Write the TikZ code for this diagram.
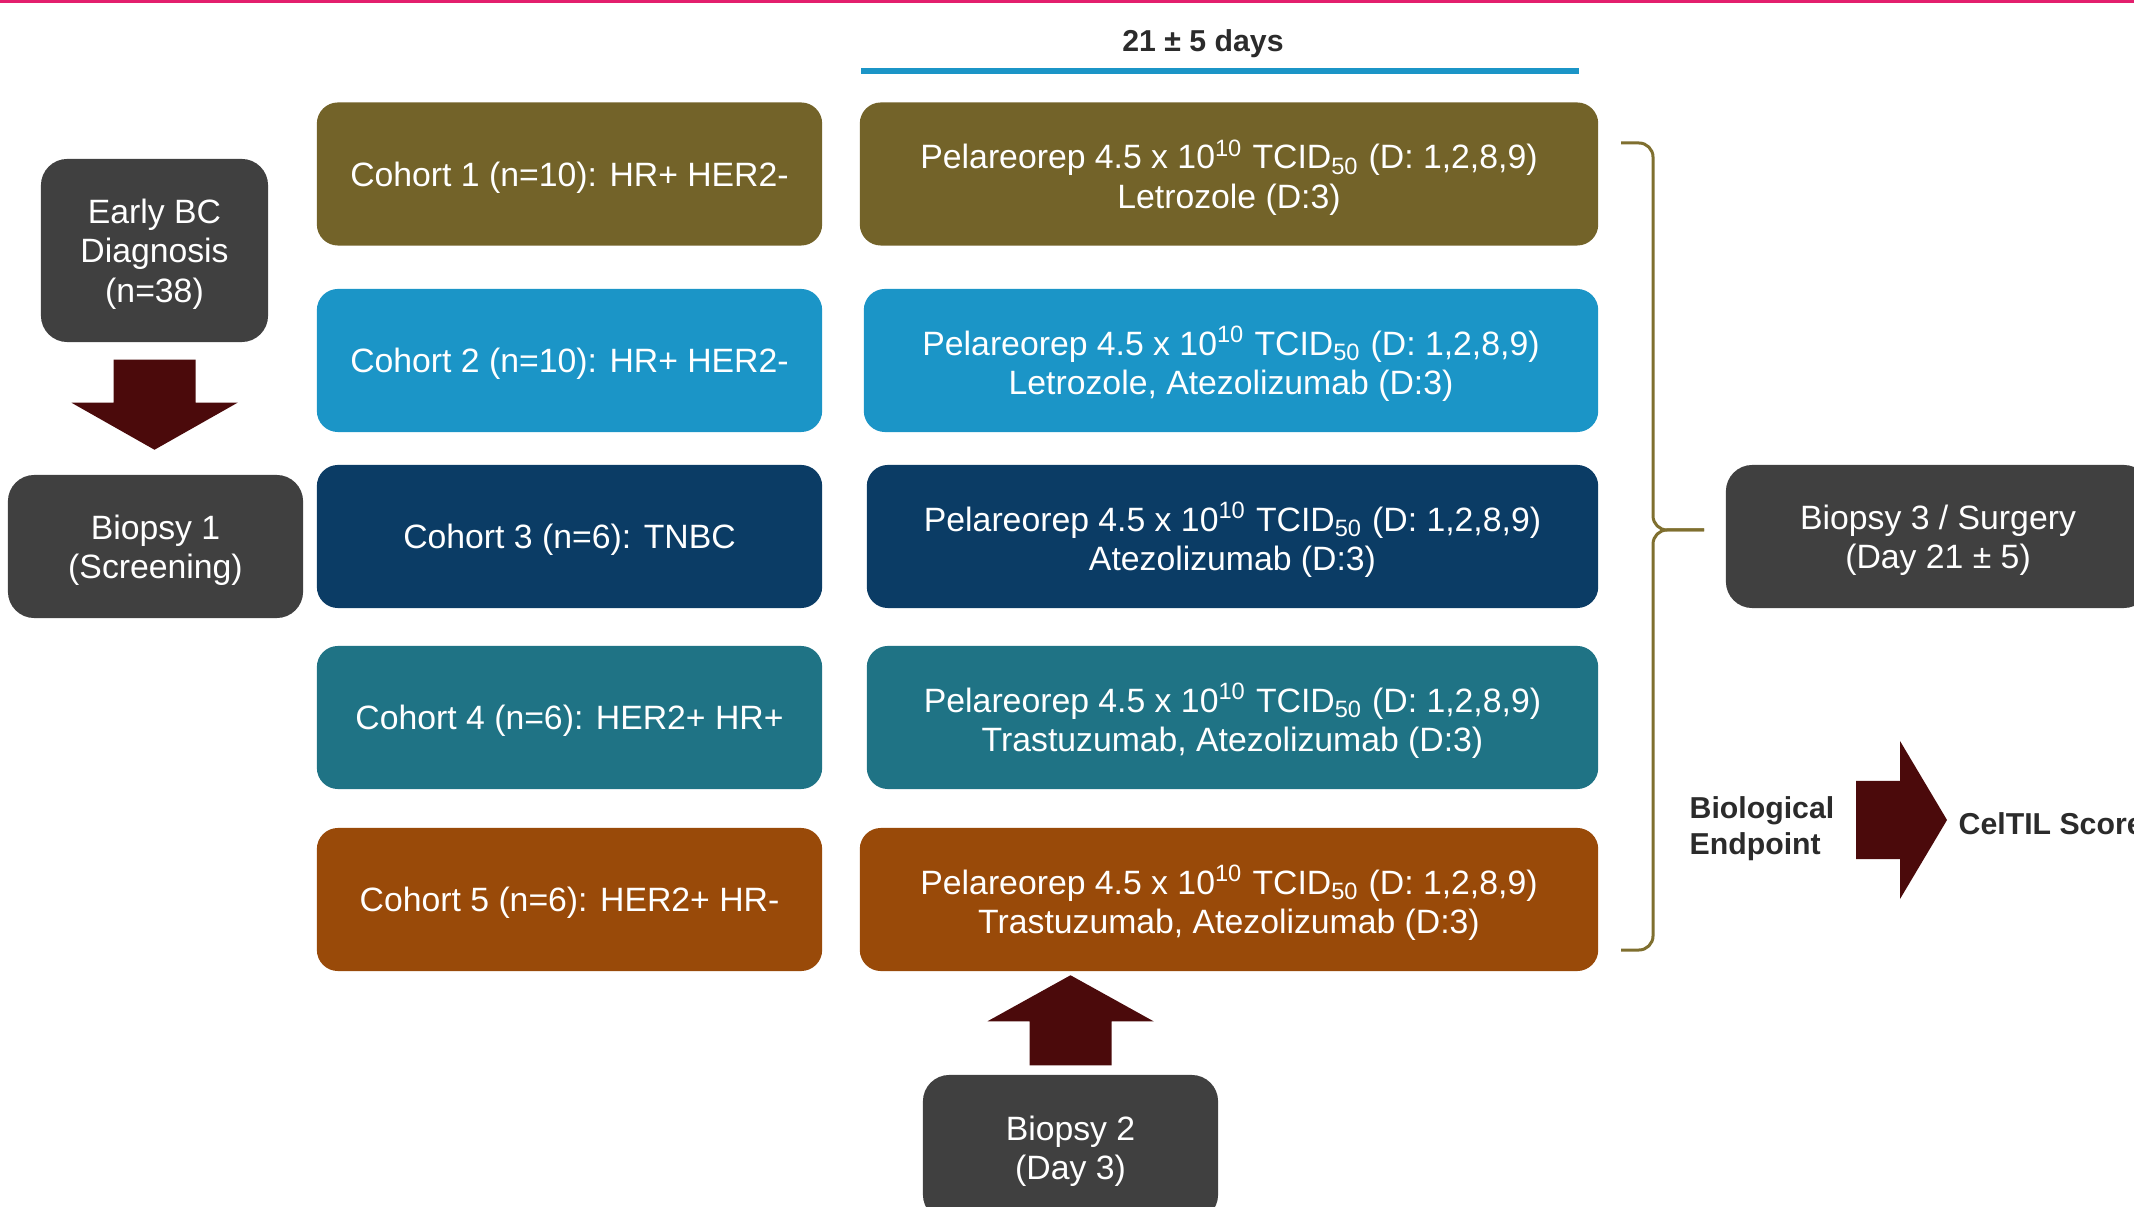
\documentclass[tikz,border=0pt]{standalone}
\usepackage{fontspec}
\setmainfont{Liberation Sans}
\usetikzlibrary{calc}

\definecolor{cOlive}{HTML}{736329}
\definecolor{cCyan}{HTML}{1B95C7}
\definecolor{cNavy}{HTML}{0B3C65}
\definecolor{cTeal}{HTML}{1F7385}
\definecolor{cRust}{HTML}{994A09}
\definecolor{cGrey}{HTML}{404040}
\definecolor{cMaroon}{HTML}{4B0A0B}
\definecolor{cBrace}{HTML}{7F6F2F}
\definecolor{cPink}{HTML}{E31F6D}
\definecolor{cLabel}{HTML}{2B2B2B}

\tikzset{
  box/.style={rectangle, rounded corners=6pt, text=white, align=center,
    inner sep=0pt, font=\fontsize{9.6}{11.2}\selectfont, text depth=0pt},
  cohort/.style={box, minimum width=5.05cm, minimum height=1.43cm},
  treat/.style={box, minimum height=1.43cm},
  greybox/.style={box, fill=cGrey, rounded corners=7.5pt},
  labeltext/.style={text=cLabel, inner sep=0pt, align=left,
    font=\bfseries\fontsize{8.6}{10.2}\selectfont},
  bigarrow/.style={fill=cMaroon},
  bracel/.style={draw=cBrace, line width=0.03cm, rounded corners=4pt},
  timeline/.style={draw=cCyan, line width=0.06cm}
}

\begin{document}
\begin{tikzpicture}[x=0.01cm, y=-0.01cm]
        \useasboundingbox (0,0) rectangle (2134,1207);
        \clip (0,0) rectangle (2134,1207);

        % top rule
        \fill[cPink] (0,0) rectangle (2134,3.5);

        % diagnosis and screening biopsy
        \node[greybox, minimum width=2.27cm, minimum height=1.83cm] (diag) at (154.5,250.5) {Early BC\\Diagnosis\\(n=38)};
        \node[greybox, minimum width=2.95cm, minimum height=1.43cm] (bio1) at (155.5,546.5) {Biopsy 1\\(Screening)};
        \begin{scope}[shift={(diag.south)}]
            \fill[bigarrow] (-41,17) -- (41,17) -- (41,60) -- (83,60) -- (0,107) -- (-83,60) -- (-41,60) -- cycle;
        \end{scope}

        % cohorts
        \node[cohort, fill=cOlive] (coh1) at (569.5,174) {Cohort 1 (n=10): HR+ HER2-};
        \node[cohort, fill=cCyan]  (coh2) at (569.5,360.5) {Cohort 2 (n=10): HR+ HER2-};
        \node[cohort, fill=cNavy]  (coh3) at (569.5,536.5) {Cohort 3 (n=6): TNBC};
        \node[cohort, fill=cTeal]  (coh4) at (569.5,717.5) {Cohort 4 (n=6): HER2+ HR+};
        \node[cohort, fill=cRust]  (coh5) at (569.5,899.5) {Cohort 5 (n=6): HER2+ HR-};

        % treatment arms
        \node[treat, fill=cOlive, minimum width=7.38cm] (trt1) at (1229,174)
            {Pelareorep 4.5 x 10\textsuperscript{10} TCID\textsubscript{50} (D: 1,2,8,9)\\Letrozole (D:3)};
        \node[treat, fill=cCyan, minimum width=7.34cm] (trt2) at (1231,360.5)
            {Pelareorep 4.5 x 10\textsuperscript{10} TCID\textsubscript{50} (D: 1,2,8,9)\\Letrozole, Atezolizumab (D:3)};
        \node[treat, fill=cNavy, minimum width=7.31cm] (trt3) at (1232.5,536.5)
            {Pelareorep 4.5 x 10\textsuperscript{10} TCID\textsubscript{50} (D: 1,2,8,9)\\Atezolizumab (D:3)};
        \node[treat, fill=cTeal, minimum width=7.31cm] (trt4) at (1232.5,717.5)
            {Pelareorep 4.5 x 10\textsuperscript{10} TCID\textsubscript{50} (D: 1,2,8,9)\\Trastuzumab, Atezolizumab (D:3)};
        \node[treat, fill=cRust, minimum width=7.38cm] (trt5) at (1229,899.5)
            {Pelareorep 4.5 x 10\textsuperscript{10} TCID\textsubscript{50} (D: 1,2,8,9)\\Trastuzumab, Atezolizumab (D:3)};

        % treatment window
        \node[labeltext] (days) at (1203,44) {21 ± 5 days};
        \coordinate (tlA) at (861,71);
        \coordinate (tlB) at (1579,71);
        \draw[timeline] (tlA) -- (tlB);

        % on-treatment biopsy
        \node[greybox, minimum width=2.95cm, minimum height=1.46cm] (bio2) at (1070.5,1148) {Biopsy 2\\(Day 3)};
        \begin{scope}[shift={(bio2.north)}]
            \fill[bigarrow] (-41,-9) -- (41,-9) -- (41,-53) -- (83,-53) -- (0,-99) -- (-83,-53) -- (-41,-53) -- cycle;
        \end{scope}

        % brace to surgery
        \coordinate (brtop) at (1621,143);
        \coordinate (brbot) at (1621,950);
        \coordinate (brmid) at (1653,530);
        \coordinate (brtip) at (1704,530);
        \draw[bracel] (brtop) -| (brmid) -- (brtip);
        \draw[bracel] (brbot) -| (brmid) -- (brtip);
        \node[greybox, minimum width=4.24cm, minimum height=1.43cm] (bio3) at (1938,536.5) {Biopsy 3 / Surgery\\(Day 21 ± 5)};

        % endpoint
        \node[labeltext, anchor=west] (endpt) at (1689,829) {Biological\\Endpoint};
        \node[labeltext, anchor=west] (celtil) at (1958,824) {CelTIL Score};
        \begin{scope}[shift={(celtil.west)}]
            \fill[bigarrow] (-102,-43) -- (-58,-43) -- (-58,-83) -- (-11,-4) -- (-58,75) -- (-58,35) -- (-102,35) -- cycle;
        \end{scope}
\end{tikzpicture}
\end{document}
